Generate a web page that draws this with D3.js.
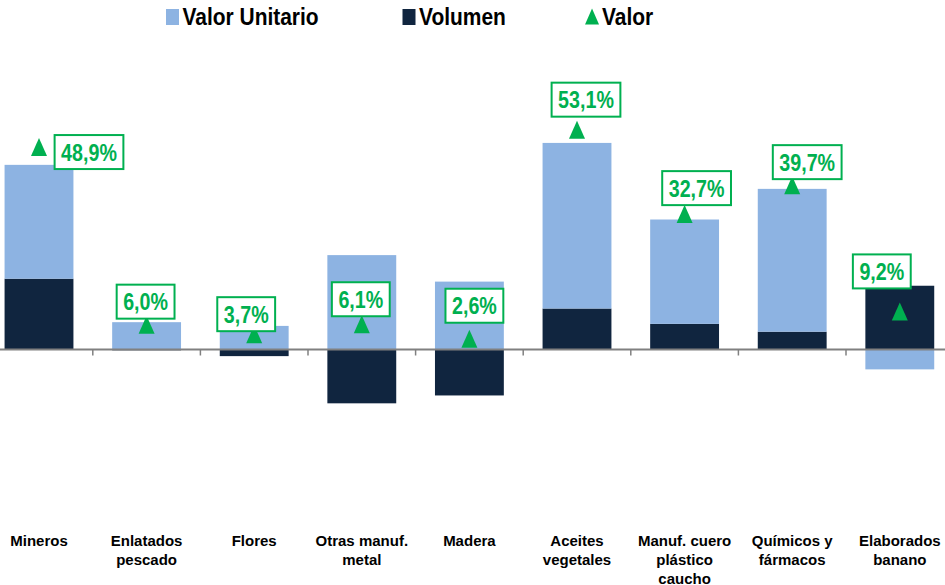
<!DOCTYPE html>
<html>
<head>
<meta charset="utf-8">
<title>Valor, volumen y valor unitario</title>
<script src="https://d3js.org/d3.v7.min.js"></script>
<style>
  body { margin: 0; background: #fff; }
  .narrow { font-family: "Liberation Sans", Arial, sans-serif; font-weight: bold; }
  .cat { font-family: "Liberation Sans", Arial, sans-serif; font-weight: bold; font-size: 15px; }
</style>
</head>
<body>
<div id="chart"></div>
<script>
// categories and series (% change)
var categories = ["Mineros", "Enlatados pescado", "Flores", "Otras manuf. metal", "Madera",
  "Aceites vegetales", "Manuf. cuero plástico caucho", "Químicos y fármacos", "Elaborados banano"];
var catLines = [["Mineros"], ["Enlatados", "pescado"], ["Flores"], ["Otras manuf.", "metal"], ["Madera"],
  ["Aceites", "vegetales"], ["Manuf. cuero", "plástico", "caucho"], ["Químicos y", "fármacos"], ["Elaborados", "banano"]];
var volumen       = [17.1, -0.2, -1.6, -13.0, -11.1,  9.9,  6.2,  4.3, 15.4];
var valorUnitario = [27.5,  6.6,  5.7,  22.8,  16.4, 40.0, 25.2, 34.5, -4.8];
var valor         = [48.9,  6.0,  3.7,   6.1,   2.6, 53.1, 32.7, 39.7,  9.2];
var valorLabels   = ["48,9%", "6,0%", "3,7%", "6,1%", "2,6%", "53,1%", "32,7%", "39,7%", "9,2%"];

// label nudges relative to the marker (layout only)
var labelDx = [50, -1, -8, -1, 5, 9, 12, 15, -18];
var labelDy = [5, -23, -20, -25, -33, -30, -26, -23, -40];

var width = 945, height = 585;
var colors = { valorUnitario: "#8DB3E2", volumen: "#10253F", valor: "#00B050" };

// no Arial Narrow here, so squeeze the bold sans horizontally
var squeeze = 0.82;
var legendSqueeze = 0.855;

var svg = d3.select("#chart").append("svg")
  .attr("width", width)
  .attr("height", height);

var step = 107.6;
var x = d3.scaleBand().domain(categories)
  .range([-14.8, -14.8 + step * categories.length])
  .paddingInner(0.36).paddingOuter(0.18);

var y = d3.scaleLinear().domain([-20, 70]).range([349.5 + 20 * 4.14, 349.5 - 70 * 4.14]);

var rows = categories.map(function(c, i) {
  return { cat: c, volumen: volumen[i], valorUnitario: valorUnitario[i] };
});

var stack = d3.stack().keys(["volumen", "valorUnitario"]).offset(d3.stackOffsetDiverging);
var series = stack(rows);

svg.append("g").selectAll("g")
  .data(series).enter().append("g")
  .attr("fill", function(s) { return colors[s.key]; })
  .selectAll("rect")
  .data(function(s) { return s; }).enter().append("rect")
  .attr("x", function(d) { return x(d.data.cat); })
  .attr("width", x.bandwidth())
  .attr("y", function(d) { return y(Math.max(d[0], d[1])); })
  .attr("height", function(d) { return Math.abs(y(d[0]) - y(d[1])); });

// axis at zero with ticks between categories
var axis = svg.append("g");
axis.append("line")
  .attr("x1", 0).attr("x2", width)
  .attr("y1", y(0)).attr("y2", y(0))
  .attr("stroke", "#808080").attr("stroke-width", 2);
axis.selectAll("line.tick")
  .data(categories.slice(1)).enter().append("line")
  .attr("class", "tick")
  .attr("x1", function(c) { return x(c) - x.step() * x.paddingInner() / 2; })
  .attr("x2", function(c) { return x(c) - x.step() * x.paddingInner() / 2; })
  .attr("y1", y(0)).attr("y2", y(0) + 6)
  .attr("stroke", "#808080").attr("stroke-width", 1.5);

// category labels
var cats = svg.append("g").selectAll("text")
  .data(categories).enter().append("text")
  .attr("class", "cat")
  .attr("text-anchor", "middle")
  .attr("x", function(c) { return x(c) + x.bandwidth() / 2; })
  .attr("y", 545.5);
cats.each(function(c, i) {
  var t = d3.select(this);
  catLines[i].forEach(function(line, j) {
    t.append("tspan").attr("x", x(c) + x.bandwidth() / 2).attr("dy", j === 0 ? 0 : 19).text(line);
  });
});

// valor markers
function tri(cx, cy, w, h) {
  return "M" + (cx - w / 2) + "," + (cy + h / 2) + "L" + cx + "," + (cy - h / 2) + "L" + (cx + w / 2) + "," + (cy + h / 2) + "Z";
}
svg.append("g").selectAll("path")
  .data(categories).enter().append("path")
  .attr("d", function(c, i) { return tri(x(c) + x.bandwidth() / 2, y(valor[i]), 16, 18); })
  .attr("fill", colors.valor);

// value labels in boxes
var lab = svg.append("g").selectAll("g")
  .data(categories).enter().append("g")
  .attr("transform", function(c, i) {
    return "translate(" + (x(c) + x.bandwidth() / 2 + labelDx[i]) + "," + (y(valor[i]) + labelDy[i]) + ")";
  });
lab.append("text")
  .attr("class", "narrow")
  .attr("text-anchor", "middle")
  .attr("y", 8.5)
  .attr("font-size", 24)
  .attr("transform", "scale(" + squeeze + ",1)")
  .attr("fill", colors.valor)
  .text(function(c, i) { return valorLabels[i]; });
lab.each(function() {
  var g = d3.select(this);
  var w = g.select("text").node().getBBox().width * squeeze;
  g.insert("rect", "text")
    .attr("x", -w / 2 - 6.5)
    .attr("y", -17)
    .attr("width", w + 13)
    .attr("height", 34)
    .attr("fill", "#fff")
    .attr("stroke", colors.valor)
    .attr("stroke-width", 2);
});

// legend
var legendItems = [
  { key: "valorUnitario", label: "Valor Unitario", x: 166, shape: "rect" },
  { key: "volumen", label: "Volumen", x: 402.5, shape: "rect" },
  { key: "valor", label: "Valor", x: 585, shape: "tri" }
];
var leg = svg.append("g").selectAll("g")
  .data(legendItems).enter().append("g")
  .attr("transform", function(d) { return "translate(" + d.x + ",0)"; });
leg.filter(function(d) { return d.shape === "rect"; }).append("rect")
  .attr("x", 0).attr("y", 9).attr("width", 13).attr("height", 16)
  .attr("fill", function(d) { return colors[d.key]; });
leg.filter(function(d) { return d.shape === "tri"; }).append("path")
  .attr("d", tri(7, 16.5, 14, 16))
  .attr("fill", colors.valor);
leg.append("text")
  .attr("class", "narrow")
  .attr("font-size", 24.5)
  .attr("transform", function(d) { return "translate(" + (d.shape === "rect" ? 16.5 : 17) + ",25) scale(" + legendSqueeze + ",1)"; })
  .attr("fill", "#000")
  .text(function(d) { return d.label; });
</script>
</body>
</html>
